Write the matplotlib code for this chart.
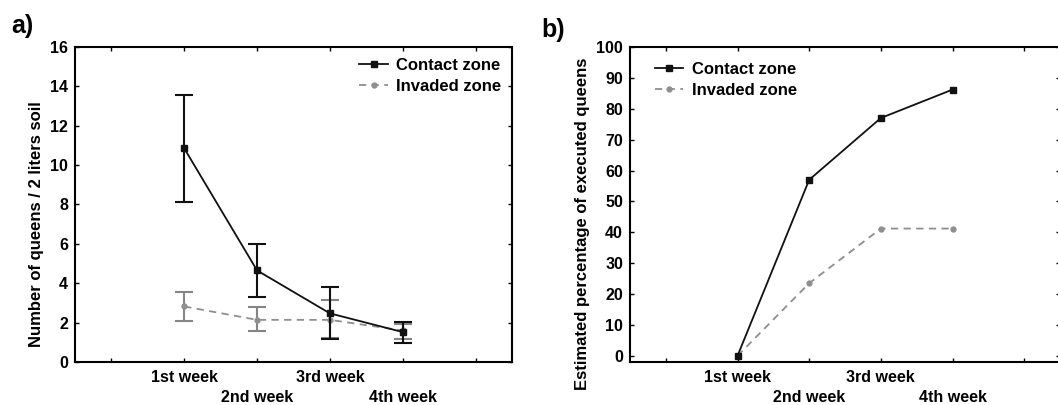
import matplotlib
matplotlib.use("Agg")
import matplotlib.pyplot as plt

plt.rcParams.update({
    "font.family": ["Liberation Sans", "DejaVu Sans"],
    "font.weight": "bold",
    "axes.labelweight": "bold",
})

# ---- data ----
weeks = ["1st week", "2nd week", "3rd week", "4th week"]
week_pos = [1, 2, 3, 4]

# panel a: queens per 2 liters soil (mean with lower/upper error)
contact_mean = [10.85, 4.65, 2.47, 1.52]
contact_low = [8.12, 3.32, 1.18, 0.95]
contact_high = [13.55, 6.0, 3.8, 2.05]
invaded_mean = [2.82, 2.14, 2.14, 1.6]
invaded_low = [2.1, 1.55, 1.2, 1.18]
invaded_high = [3.55, 2.78, 3.15, 1.92]

# panel b: estimated percentage of executed queens
contact_pct = [0, 57, 77, 86.2]
invaded_pct = [0, 23.5, 41.2, 41.2]

BLACK = "#111111"
GRAY_LINE = "#8e8e8e"
GRAY_ERR = "#858585"

fig = plt.figure(figsize=(10.58, 4.05), dpi=100)
ax_a = fig.add_axes([0.0709, 0.1062, 0.4130, 0.7778])
ax_b = fig.add_axes([0.5955, 0.1062, 0.4064, 0.7778])


def style_axes(ax):
    ax.set_xlim(-0.5, 5.5)
    ax.set_xticks(range(6))
    labels = [""] + [("" if i % 2 == 0 else "\n") + w for i, w in enumerate(weeks)] + [""]
    ax.set_xticklabels(labels, fontsize=11.5, fontweight="bold")
    for lab in ax.get_xticklabels():
        lab.set_linespacing(1.4)
    ax.tick_params(direction="in", length=3, width=1, top=True, right=True,
                   labelsize=11.5, pad=5)
    ax.tick_params(axis="x", pad=6)
    for s in ax.spines.values():
        s.set_linewidth(1.5)
    for lab in ax.get_yticklabels():
        lab.set_fontweight("bold")


# ---- panel a ----
err_c = [[m - l for m, l in zip(contact_mean, contact_low)],
         [h - m for m, h in zip(contact_mean, contact_high)]]
err_i = [[m - l for m, l in zip(invaded_mean, invaded_low)],
         [h - m for m, h in zip(invaded_mean, invaded_high)]]
ax_a.errorbar(week_pos, invaded_mean, yerr=err_i, fmt="none", ecolor=GRAY_ERR,
              elinewidth=1.5, capsize=6.5, capthick=1.5)
ax_a.plot(week_pos, invaded_mean, ls=(0, (4, 3)), color=GRAY_LINE, lw=1.3,
          marker="o", ms=3.5, label="Invaded zone")
ax_a.errorbar(week_pos, contact_mean, yerr=err_c, fmt="none", ecolor=BLACK,
              elinewidth=1.5, capsize=6.5, capthick=1.5)
ax_a.plot(week_pos, contact_mean, ls="-", color=BLACK, lw=1.3,
          marker="s", ms=4, label="Contact zone")
ax_a.set_ylim(0, 16)
ax_a.set_yticks(range(0, 17, 2))
ax_a.set_ylabel("Number of queens / 2 liters soil", fontsize=12)
ax_a.yaxis.set_label_coords(-0.071, 0.438)
style_axes(ax_a)
h, l = ax_a.get_legend_handles_labels()
ax_a.legend(h[::-1], l[::-1], loc="upper right", frameon=False,
            handlelength=1.7, handletextpad=0.5, labelspacing=0.35,
            borderaxespad=0.25, prop={"weight": "bold", "size": 12})

# ---- panel b ----
ax_b.plot(week_pos, invaded_pct, ls=(0, (4, 3)), color=GRAY_LINE, lw=1.3,
          marker="o", ms=3.5, label="Invaded zone")
ax_b.plot(week_pos, contact_pct, ls="-", color=BLACK, lw=1.3,
          marker="s", ms=4, label="Contact zone")
ax_b.set_ylim(-2, 100)
ax_b.set_yticks(range(0, 101, 10))
ax_b.set_ylabel("Estimated percentage of executed queens", fontsize=12)
ax_b.yaxis.set_label_coords(-0.093, 0.438)
style_axes(ax_b)
h, l = ax_b.get_legend_handles_labels()
ax_b.legend(h[::-1], l[::-1], loc="upper left", bbox_to_anchor=(0.023, 1.0),
            frameon=False, handlelength=1.7, handletextpad=0.5,
            labelspacing=0.35, borderaxespad=0.5,
            prop={"weight": "bold", "size": 12})

fig.text(0.011, 0.965, "a)", fontsize=18, fontweight="bold", va="top")
fig.text(0.512, 0.955, "b)", fontsize=18, fontweight="bold", va="top")

fig.savefig("out.png", dpi=100)
